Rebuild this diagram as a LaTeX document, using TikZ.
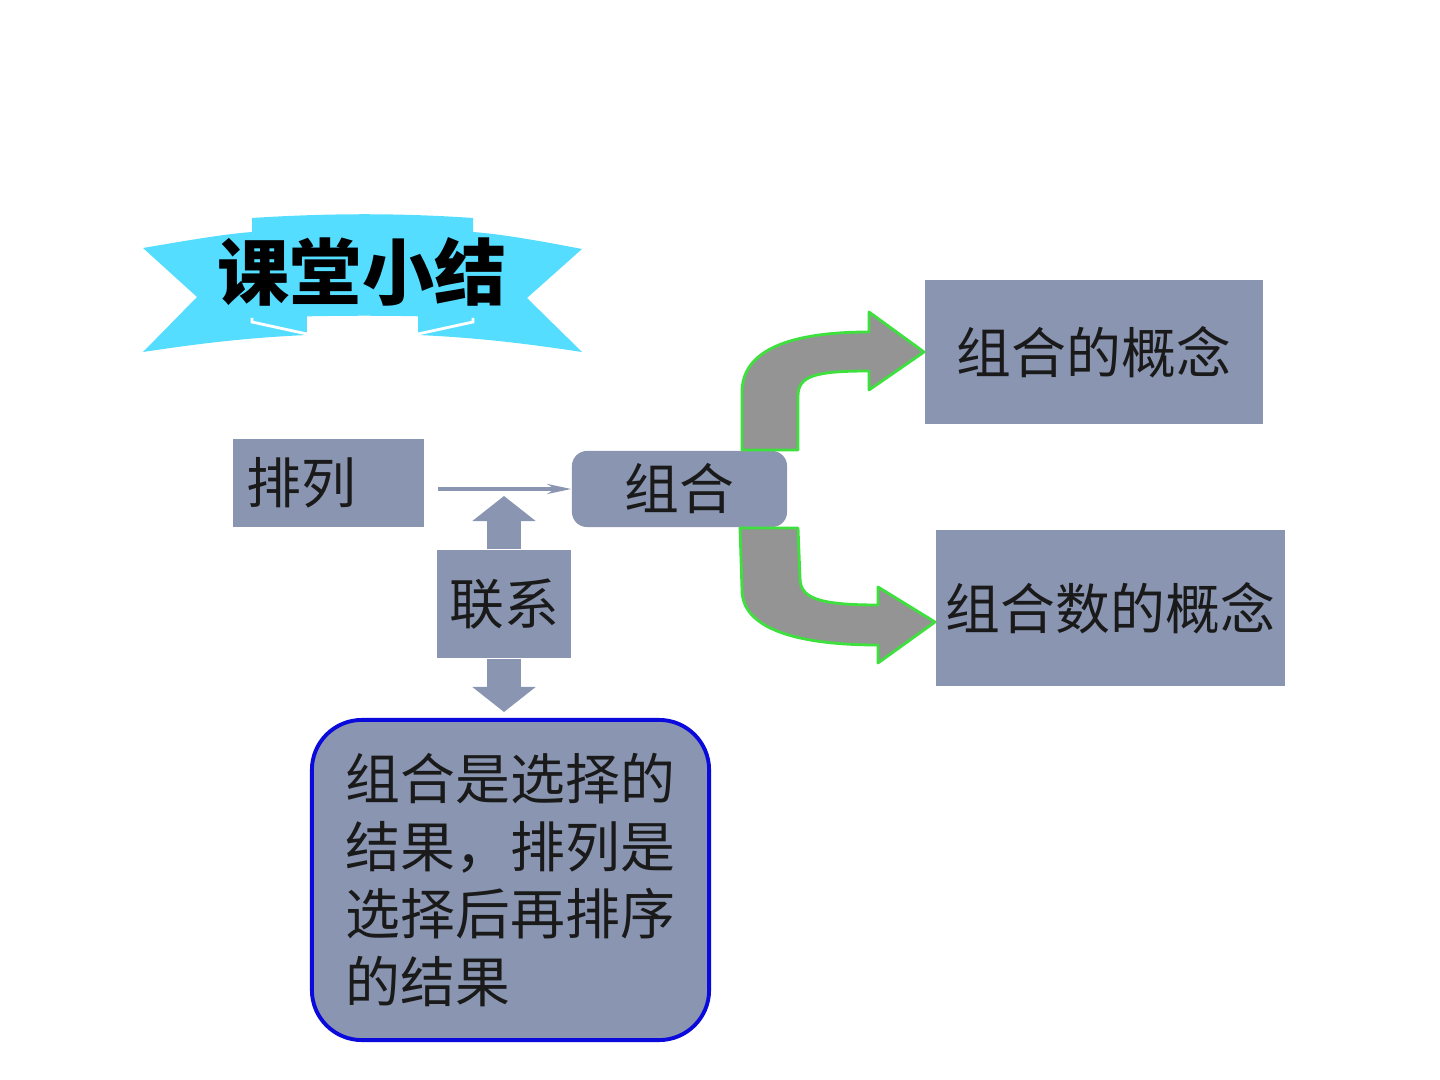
\documentclass[tikz,border=0pt]{standalone}
\usepackage{fontspec}
\newfontfamily\cjk{Noto Sans CJK SC}
\usetikzlibrary{arrows.meta}
\definecolor{slate}{HTML}{8A96B1}
\definecolor{ribbon}{HTML}{55DDFF}
\definecolor{arrowgray}{HTML}{949494}
\definecolor{arrowrim}{HTML}{3EE03E}
\definecolor{frameblue}{HTML}{0A0ADC}
\definecolor{ink}{HTML}{1A1A1A}
\tikzset{
  box/.style={fill=slate, inner sep=0pt, text=ink, font=\cjk\fontsize{15.6pt}{19pt}\selectfont},
  bentarrow/.style={fill=arrowgray, draw=arrowrim, line width=0.8pt, line join=round},
}

\begin{document}
\begin{tikzpicture}[x=0.01cm, y=-0.01cm]
\useasboundingbox (0,0) rectangle (1440,1080);
% ribbon behind the title
\fill[ribbon] (143,248) .. controls (190,240) and (225,234) .. (252,232) -- (252,322) -- (307,335) .. controls (240,338) and (190,345) .. (143,352) -- (197,297) -- cycle;
\fill[ribbon] (582,249) .. controls (535,240) and (500,234) .. (473,232) -- (473,322) -- (418,335) .. controls (485,338) and (535,345) .. (582,352) -- (527,298) -- cycle;
\fill[ribbon] (252,315) rectangle (307,335);
\fill[ribbon] (418,315) rectangle (473,335);
\fill[ribbon] (252,218) .. controls (330,213) and (400,213) .. (473,218) -- (473,318) .. controls (400,315) and (330,315) .. (252,318) -- cycle;
\draw[white, line width=0.8pt] (252,318) -- (252,322) -- (307,334);
\draw[white, line width=0.8pt] (473,318) -- (473,322) -- (418,334);
\node[font=\cjk\bfseries\fontsize{20.5pt}{24pt}\selectfont, text=black] (title) at (362,272) {课堂小结};

% boxes
\node[box, minimum width=1.91cm, minimum height=0.88cm, text width=1.63cm, align=left] (pailie) at (328.5,483) {排列};
\node[box, minimum width=2.15cm, minimum height=0.76cm, rounded corners=0.15cm] (zuhe) at (679.5,489) {组合};
\node[box, minimum width=1.34cm, minimum height=1.08cm] (link) at (504,604) {联系};
\node[box, minimum width=3.38cm, minimum height=1.44cm] (concept) at (1094,352) {组合的概念};
\node[box, minimum width=3.49cm, minimum height=1.56cm] (count) at (1110.5,608) {组合数的概念};
\node[box, minimum width=3.97cm, minimum height=3.2cm, rounded corners=0.5cm, draw=frameblue, line width=1.1pt, align=left, font=\cjk\fontsize{15.6pt}{19.2pt}\selectfont] (note) at (510.5,880) {组合是选择的\\结果，排列是\\选择后再排序\\的结果};

% connectors
\coordinate (uptip) at (504,496);
\coordinate (downtip) at (504,712);
\draw[slate, line width=1pt, shorten <=0.13cm, -{Stealth[length=0.24cm, width=0.1cm]}] (pailie.east |- zuhe.west) -- (zuhe.west);
\draw[slate, line width=0.33cm, -{Triangle[length=0.25cm, width=0.62cm]}] (link.north) -- (uptip);
\draw[slate, line width=0.33cm, -{Triangle[length=0.25cm, width=0.62cm]}] (link.south) -- (downtip);

% bent block arrows
\draw[bentarrow] (742,450) -- (742,392) .. controls (742,350) and (790,332) .. (869,332) -- (869,312) -- (924,352) -- (869,390) -- (869,371) .. controls (815,371) and (798,376) .. (798,396) -- (798,450) -- cycle;
\draw[bentarrow] (740,528) -- (742,590) .. controls (742,628) and (795,645) .. (878,645) -- (878,663) -- (935,622) -- (878,587) -- (878,605) .. controls (818,605) and (800,598) .. (800,578) -- (798,528) -- cycle;
\end{tikzpicture}
\end{document}
